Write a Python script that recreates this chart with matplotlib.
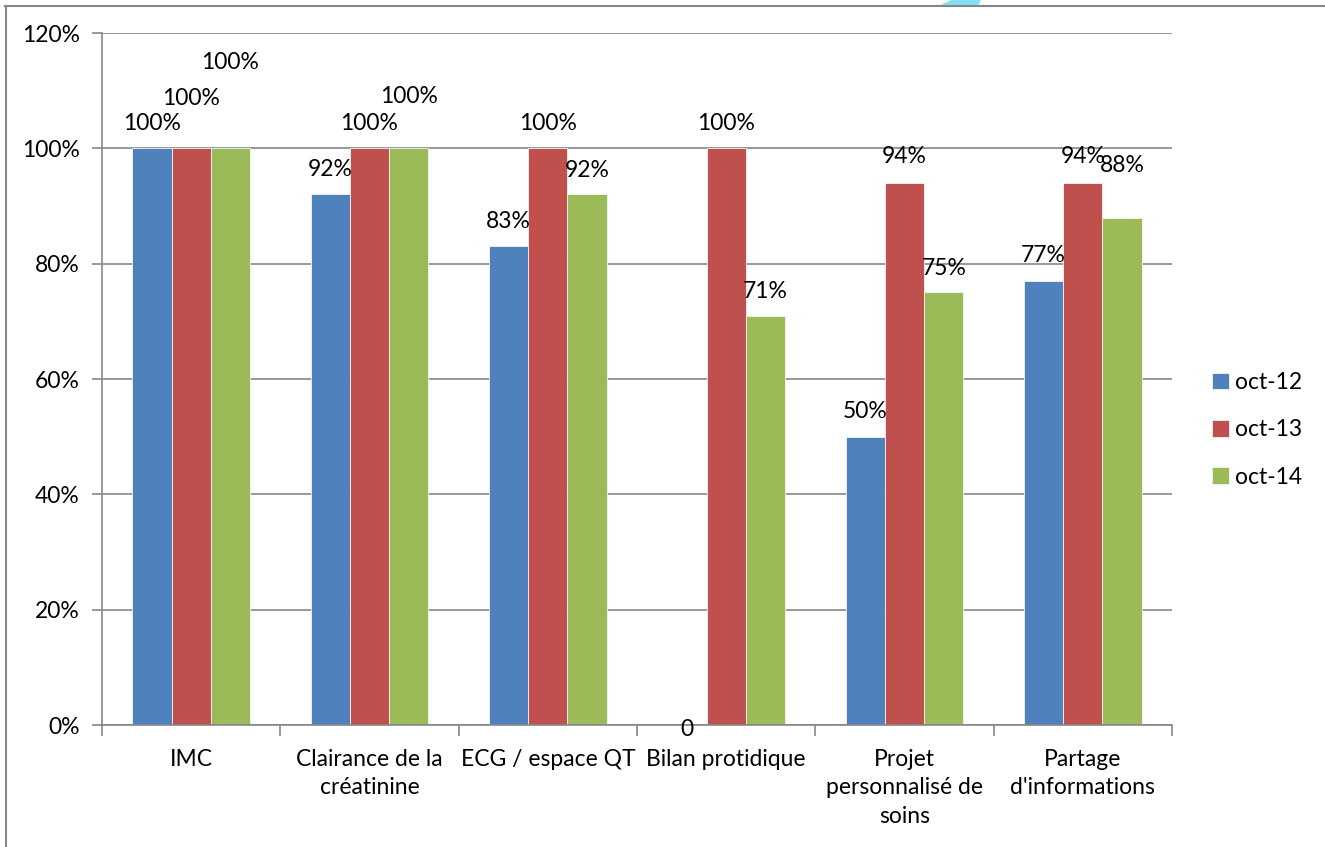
import matplotlib
matplotlib.use("Agg")
import matplotlib.pyplot as plt
from matplotlib.lines import Line2D
from matplotlib.patches import Polygon
import numpy as np

categories = ["IMC", "Clairance de la\ncréatinine", "ECG / espace QT", "Bilan protidique",
              "Projet\npersonnalisé de\nsoins", "Partage\nd'informations"]
series_names = ["oct-12", "oct-13", "oct-14"]
oct12 = [1.00, 0.92, 0.83, 0.00, 0.50, 0.77]
oct13 = [1.00, 1.00, 1.00, 1.00, 0.94, 0.94]
oct14 = [1.00, 1.00, 0.92, 0.71, 0.75, 0.88]
labels12 = ["100%", "92%", "83%", "0", "50%", "77%"]
labels13 = ["100%", "100%", "100%", "100%", "94%", "94%"]
labels14 = ["100%", "100%", "92%", "71%", "75%", "88%"]
yticks = [0, 0.2, 0.4, 0.6, 0.8, 1.0, 1.2]
ytick_labels = ["0%", "20%", "40%", "60%", "80%", "100%", "120%"]

colors = ["#4F81BD", "#C0504D", "#9BBB59"]
# vertical label offsets (pixels above the bar top) where labels were moved apart
lift12 = [25, 25, 25, -4, 25, 25]
lift13 = [50, 25, 25, 25, 26, 26]
lift14 = [86, 52, 24, 24, 24, 52]

FS = 16.5
plt.rcParams["font.family"] = ["Lato", "DejaVu Sans"]
W, H = 1325, 847
fig = plt.figure(figsize=(W / 100, H / 100), dpi=100)
ax = fig.add_axes([102 / W, (H - 725) / H, 1070 / W, 692 / H])

n = len(categories)
x = np.arange(n)
w = 0.22
grey = "#868686"

for yv in yticks:
    ax.axhline(yv, color=grey, lw=1.2, zorder=0)

series = [oct12, oct13, oct14]
labs = [labels12, labels13, labels14]
lifts = [lift12, lift13, lift14]
for j, (vals, lab, lift) in enumerate(zip(series, labs, lifts)):
    pos = x + (j - 1) * w
    ax.bar(pos, vals, width=w, color=colors[j], zorder=2, label=series_names[j],
           edgecolor="#f4f4f4", linewidth=0.6)
    for xi, v, t, d in zip(pos, vals, lab, lift):
        ax.annotate(t, (xi, v), xytext=(0, d), textcoords="offset pixels",
                    ha="center", va="center", fontsize=FS, color="black", zorder=3)

ax.set_xlim(-0.5, n - 0.5)
ax.set_ylim(0, 1.2)
ax.set_yticks(yticks)
ax.set_yticklabels(ytick_labels, fontsize=FS)
ax.set_xticks(np.arange(n + 1) - 0.5)
ax.set_xticklabels([])
ax.set_xticks(x, minor=True)
ax.set_xticklabels(categories, minor=True, fontsize=FS, linespacing=1.45, va="top")
ax.tick_params(axis="x", which="minor", length=0, pad=17)
ax.tick_params(axis="x", which="major", length=8, width=1.2, color=grey, direction="out")
ax.tick_params(axis="y", length=7, width=1.2, color=grey, direction="out", pad=9)
for s in ["top", "right"]:
    ax.spines[s].set_visible(False)
for s in ["left", "bottom"]:
    ax.spines[s].set_color(grey)
    ax.spines[s].set_linewidth(1.2)

leg = fig.legend(loc="upper left", bbox_to_anchor=(1212 / W, 1 - 372 / H), frameon=False,
                 fontsize=FS, handlelength=0.75, handleheight=0.75, handletextpad=0.25,
                 labelspacing=1.15, borderaxespad=0, borderpad=0)

# outer chart border (top and left edges)
fig.add_artist(Line2D([5 / W, 1], [1 - 6 / H, 1 - 6 / H], color=grey, lw=1.5,
                      transform=fig.transFigure, zorder=5))
fig.add_artist(Line2D([6 / W, 6 / W], [0, 1 - 6 / H], color=grey, lw=1.5,
                      transform=fig.transFigure, zorder=5))
fig.add_artist(Polygon([[942 / W, 1 - 5 / H], [978 / W, 1 - 5 / H], [980 / W, 1],
                        [953 / W, 1]], closed=True, color="#87DEF7",
                       transform=fig.transFigure, zorder=4))

fig.savefig("out.png", dpi=100)
